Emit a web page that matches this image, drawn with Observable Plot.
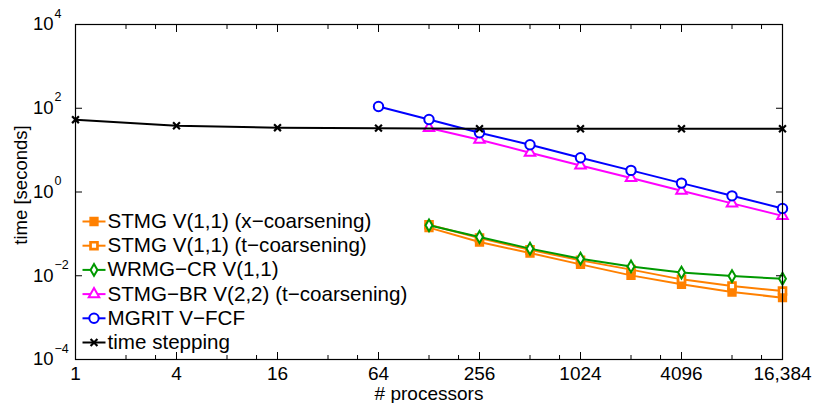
<!DOCTYPE html>
<html>
<head>
<meta charset="utf-8">
<script src="https://cdn.jsdelivr.net/npm/d3@7"></script>
<script src="https://cdn.jsdelivr.net/npm/@observablehq/plot@0.6"></script>
<style>
  body { margin: 0; background: #fff; }
  svg { font-family: "Liberation Sans", Arial, Helvetica, sans-serif; }
</style>
</head>
<body>
<div id="chart"></div>
<script>
// ---- data ----
const xTicks = [1, 4, 16, 64, 256, 1024, 4096, 16384];
const xTickLabels = ["1", "4", "16", "64", "256", "1024", "4096", "16,384"];
const xMinorTicks = [2, 3, 8, 12, 32, 48, 128, 192, 512, 768, 2048, 3072, 8192, 12288];
const yTicks = [1e4, 1e2, 1, 1e-2, 1e-4];
const yTickExponents = ["4", "2", "0", "\u22122", "\u22124"];

const procsTimeStepping = [1, 4, 16, 64, 256, 1024, 4096, 16384];
const procsMgrit = [64, 128, 256, 512, 1024, 2048, 4096, 8192, 16384];
const procsStmg = [128, 256, 512, 1024, 2048, 4096, 8192, 16384];

const stmgXCoarsening = [0.141, 0.0637, 0.0348, 0.0187, 0.0102, 0.00624, 0.00408, 0.0030];
const stmgTCoarsening = [0.165, 0.080, 0.0415, 0.0233, 0.0140, 0.0082, 0.00568, 0.00431];
const wrmgCr = [0.160, 0.084, 0.0444, 0.0256, 0.0167, 0.0119, 0.0098, 0.0085];
const stmgBr = [33.9, 17.7, 8.67, 4.31, 2.15, 1.07, 0.535, 0.269];
const mgrit = [110, 54, 26, 13.4, 6.6, 3.28, 1.63, 0.81, 0.405];
const timeStepping = [53.2, 38.2, 34.3, 33.5, 32.4, 32.4, 32.4, 32.4];

const seriesNames = [
  "STMG V(1,1) (x\u2212coarsening)",
  "STMG V(1,1) (t\u2212coarsening)",
  "WRMG\u2212CR V(1,1)",
  "STMG\u2212BR V(2,2) (t\u2212coarsening)",
  "MGRIT V\u2212FCF",
  "time stepping"
];

// ---- styles ----
const FONT = "Liberation Sans, Arial, Helvetica, sans-serif";
const series = [
  {name: seriesNames[0], xs: procsStmg, ys: stmgXCoarsening, color: "#ff8000", symbol: "square", fill: "#ff8000", r: 4.4, sw: 1.5},
  {name: seriesNames[1], xs: procsStmg, ys: stmgTCoarsening, color: "#ff8000", symbol: "square", fill: "white", r: 3.9, sw: 2.7},
  {name: seriesNames[2], xs: procsStmg, ys: wrmgCr, color: "#009900", symbol: "diamond", fill: "white", r: 3.6, sw: 2},
  {name: seriesNames[3], xs: procsStmg, ys: stmgBr, color: "#ff00ff", symbol: "triangle", fill: "white", r: 3.9, sw: 2},
  {name: seriesNames[4], xs: procsMgrit, ys: mgrit, color: "#0000ff", symbol: "circle", fill: "white", r: 4.7, sw: 2},
  {name: seriesNames[5], xs: procsTimeStepping, ys: timeStepping, color: "black", symbol: "times", fill: "none", r: 3.2, sw: 2.2}
];

const legendLine = {draw(ctx) { ctx.moveTo(-11.5, 0); ctx.lineTo(11.5, 0); }};

const marks = [];

// data series
for (const s of series) {
  const rows = s.xs.map((x, i) => ({x, y: s.ys[i]}));
  marks.push(Plot.line(rows, {x: "x", y: "y", stroke: s.color, strokeWidth: 2}));
  marks.push(Plot.dot(rows, {x: "x", y: "y", symbol: s.symbol, r: s.r, stroke: s.color, fill: s.fill, strokeWidth: s.sw}));
}

// frame + inward ticks on all four sides
marks.push(Plot.frame({stroke: "black", strokeWidth: 1.2}));
for (const anchor of ["bottom", "top"]) {
  const sign = anchor === "bottom" ? -1 : 1;
  marks.push(Plot.axisX(xTicks, {anchor, tickSize: 7, dy: sign * 7, fill: "none", label: null}));
  marks.push(Plot.axisX(xMinorTicks, {anchor, tickSize: 4, dy: sign * 4, fill: "none", label: null}));
}
for (const anchor of ["left", "right"]) {
  const sign = anchor === "left" ? 1 : -1;
  marks.push(Plot.axisY(yTicks, {anchor, tickSize: 7, dx: sign * 7, fill: "none", label: null}));
}

// tick labels
marks.push(Plot.text(xTicks, {x: d => d, frameAnchor: "bottom", lineAnchor: "middle", dy: 14,
  text: (d, i) => xTickLabels[i], fontSize: 19, fill: "black"}));
marks.push(Plot.text(yTicks, {y: d => d, frameAnchor: "left", lineAnchor: "middle", textAnchor: "end", dx: -22,
  text: () => "10", fontSize: 18.5, fill: "black"}));
marks.push(Plot.text(yTicks, {y: d => d, frameAnchor: "left", lineAnchor: "middle", textAnchor: "start", dx: -21, dy: -11,
  text: (d, i) => yTickExponents[i], fontSize: 12.5, fill: "black"}));

// axis titles
marks.push(Plot.text(["# processors"], {frameAnchor: "bottom", lineAnchor: "middle", textAnchor: "middle", dy: 34,
  text: d => d, fontSize: 19, fill: "black"}));
marks.push(Plot.text(["time [seconds]"], {frameAnchor: "left", lineAnchor: "middle", textAnchor: "middle", dx: -54, dy: -7, rotate: -90,
  text: d => d, fontSize: 18.5, fill: "black"}));

// legend
series.forEach((s, i) => {
  const dy = 197 + i * 24.2;
  marks.push(Plot.dot([0], {frameAnchor: "top-left", dx: 18.5, dy, symbol: legendLine, stroke: s.color, strokeWidth: 2, fill: "none"}));
  marks.push(Plot.dot([0], {frameAnchor: "top-left", dx: 18.5, dy, symbol: s.symbol, r: s.r, stroke: s.color, fill: s.fill, strokeWidth: s.sw}));
  marks.push(Plot.text([s.name], {frameAnchor: "top-left", lineAnchor: "middle", textAnchor: "start", dx: 32, dy,
    text: d => d, fontSize: 20.6, fill: "black"}));
});

const chart = Plot.plot({
  width: 814,
  height: 403,
  marginLeft: 75,
  marginRight: 32,
  marginTop: 24,
  marginBottom: 44,
  style: {fontFamily: FONT, background: "white", color: "black"},
  x: {type: "log", base: 2, domain: [1, 16384], axis: null},
  y: {type: "log", domain: [1e-4, 1e4], axis: null},
  marks
});
document.getElementById("chart").appendChild(chart);
</script>
</body>
</html>
